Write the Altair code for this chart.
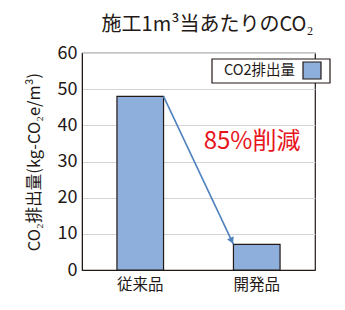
import altair as alt
import pandas as pd
import math

categories = ["従来品", "開発品"]
values = [48, 7.1]
series = "CO2排出量"
reduction_label = "85%削減"
y_title = "CO₂排出量(kg-CO₂e/m³)"
y_ticks = [0, 10, 20, 30, 40, 50, 60]

FONT = "Noto Sans CJK JP"
DARK = "#231815"
BAR = "#8eafdc"

W, H = 233, 217
y_max = 60
inner = 0.6
half_band = (1 - inner) / 2  # in band-step units

bars_df = pd.DataFrame({"cat": categories, "val": values, "series": series})

# arrow from top-right corner of first bar to top-left corner of second bar
x0, y0 = 0.5 + half_band, values[0]
x1, y1 = 1.5 - half_band, values[1]
arrow_df = pd.DataFrame({"x": [x0], "y": [y0], "x2": [x1], "y2": [y1]})

# arrow head
px_per_x = W / 2
px_per_y = H / y_max
dxp = (x1 - x0) * px_per_x
dyp = (y0 - y1) * px_per_y
ang = 180 - math.degrees(math.atan2(dxp, dyp))
L = math.hypot(dxp, dyp)
back = 4
head_df = pd.DataFrame({
    "x": [x1 - back * dxp / L / px_per_x],
    "y": [y1 + back * dyp / L / px_per_y],
})
text_df = pd.DataFrame({"x": [1.46], "y": [35.4], "t": [reduction_label]})
legend_df = pd.DataFrame({"series": [series]})

xq = alt.Scale(domain=[0, 2], nice=False, zero=False)
yq = alt.Scale(domain=[0, y_max])


def y_axis():
    return alt.Axis(values=y_ticks, ticks=False, labelOverlap=False, labelPadding=5,
                    labelFontSize=18, labelColor=DARK, gridColor="#d4d4d4",
                    domainColor=DARK, titleFontSize=16.5, titleColor=DARK,
                    titlePadding=15, titleFontWeight="normal")


bars = alt.Chart(bars_df).mark_bar(stroke=DARK, strokeWidth=1.2, color=BAR).encode(
    x=alt.X("cat:N", sort=categories, title=None,
            scale=alt.Scale(paddingInner=inner, paddingOuter=inner / 2),
            axis=alt.Axis(labelAngle=0, ticks=False, labelPadding=7,
                          labelFontSize=15.5, labelColor=DARK, domainColor=DARK)),
    y=alt.Y("val:Q", scale=yq, title=y_title, axis=y_axis()),
)

arrow = alt.Chart(arrow_df).mark_rule(color="#4f81bd", strokeWidth=1.6).encode(
    x=alt.X("x:Q", scale=xq, axis=None), x2="x2:Q",
    y=alt.Y("y:Q", scale=yq, title=y_title, axis=y_axis()), y2="y2:Q",
)
head = alt.Chart(head_df).mark_point(shape="triangle-up", filled=True, color="#4f81bd",
                                     size=55, opacity=1, angle=ang).encode(
    x=alt.X("x:Q", scale=xq, axis=None),
    y=alt.Y("y:Q", scale=yq, title=y_title, axis=y_axis()),
)
label = alt.Chart(text_df).mark_text(color="#e8141c", fontSize=24, font=FONT).encode(
    x=alt.X("x:Q", scale=xq, axis=None),
    y=alt.Y("y:Q", scale=yq, title=y_title, axis=y_axis()), text="t:N",
)

# legend box (label left, swatch right)
leg_box = alt.Chart(legend_df).mark_rect(fill="white", stroke=DARK, strokeWidth=1.2).encode(
    x=alt.value(130), x2=alt.value(248), y=alt.value(6), y2=alt.value(30),
)
leg_sw = alt.Chart(legend_df).mark_rect(fill=BAR, stroke=DARK, strokeWidth=1.2).encode(
    x=alt.value(221), x2=alt.value(239), y=alt.value(9), y2=alt.value(26),
)
leg_txt = alt.Chart(legend_df).mark_text(align="right", baseline="middle", fontSize=14.5,
                                         font=FONT, color=DARK).encode(
    x=alt.value(213), y=alt.value(17.5), text="series:N",
)

chart = alt.layer(bars, arrow, head, label, leg_box, leg_sw, leg_txt).resolve_scale(
    x="independent").properties(
    width=W, height=H,
    title=alt.Title("施工1m³当あたりのCO₂", fontSize=20, font=FONT, color=DARK,
                    fontWeight="normal", anchor="middle", dx=9, offset=9),
    autosize=alt.AutoSizeParams(type="none"),
    padding={"left": 82, "top": 53, "right": 30, "bottom": 40},
).configure(font=FONT).configure_view(stroke=DARK, strokeWidth=1.2)

chart.save("out.html", embed_options={"renderer": "svg", "actions": False})
